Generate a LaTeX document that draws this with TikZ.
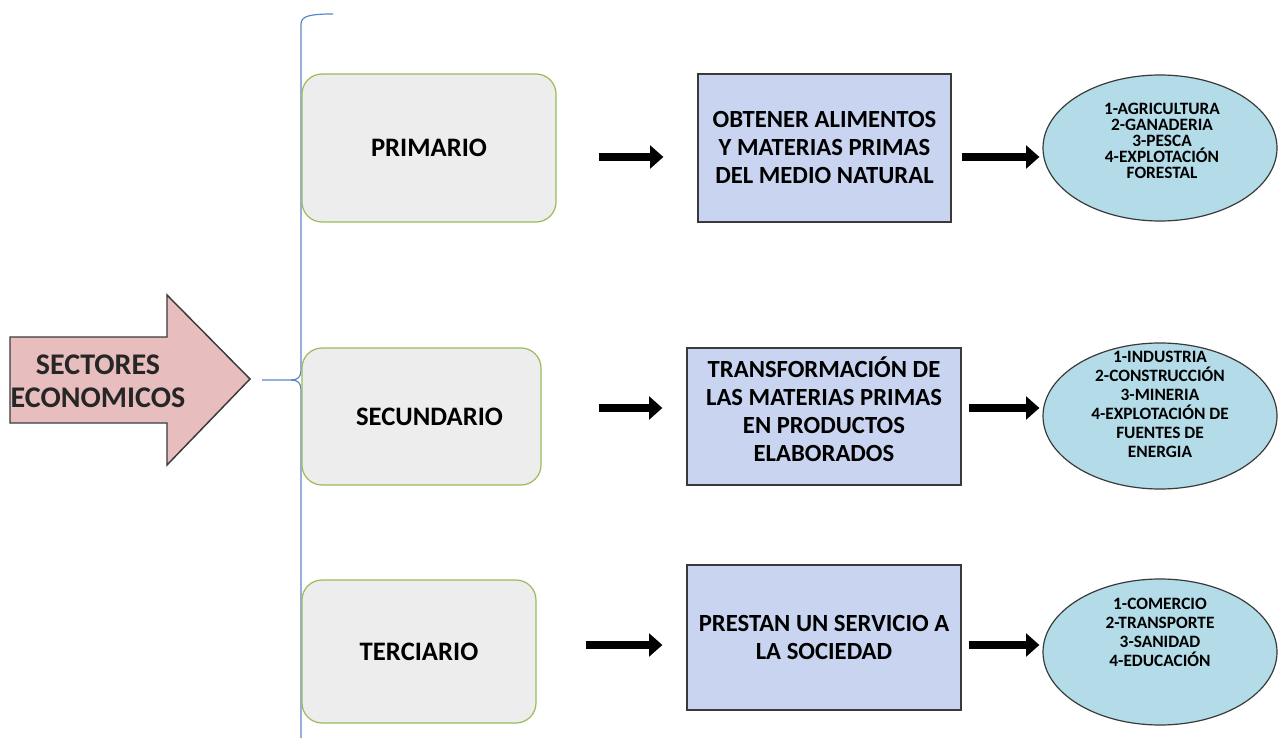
\documentclass[tikz,border=0pt]{standalone}
\usepackage{fontspec}
\setmainfont{Carlito}
\usetikzlibrary{arrows.meta,shapes.geometric,calc}
\definecolor{pinkfill}{HTML}{E8BDBE}
\definecolor{grayfill}{HTML}{EDEDED}
\definecolor{greenline}{HTML}{9BBB59}
\definecolor{bluefill}{HTML}{C9D5F0}
\definecolor{cyanfill}{HTML}{B3DCE8}
\definecolor{braceblue}{HTML}{5B87C8}
\definecolor{darkline}{HTML}{3A3A3A}
\tikzset{
  sectorbox/.style={draw=greenline, line width=0.9pt, fill=grayfill, rounded corners=15pt,
    font=\fontsize{20}{24}\selectfont\bfseries, align=center, inner sep=0pt},
  descbox/.style={draw=darkline, line width=0.9pt, fill=bluefill, inner sep=0pt},
  desctext/.style={font=\fontsize{18.5}{21}\selectfont\bfseries, align=center, inner sep=0pt},
  listell/.style={ellipse, draw=darkline, line width=0.9pt, fill=cyanfill,
    minimum width=175.5pt, minimum height=109.5pt, inner sep=0pt},
  listtext/.style={font=\fontsize{13}{14.25}\selectfont\bfseries, align=center, inner sep=0pt},
  blkarrow/.style={line width=6pt, -{Triangle[length=10pt,width=17pt]}},
}
\begin{document}
\begin{tikzpicture}[x=0.75pt,y=-0.75pt]
\useasboundingbox (0,0) rectangle (1279,738);
% big arrow
\draw[fill=pinkfill, draw=darkline, line width=1.1pt]
  (10,337) -- (167,337) -- (167,295) -- (250,379) -- (167,465) -- (167,423) -- (10,423) -- cycle;
\node[font=\fontsize{22.5}{25}\selectfont\bfseries, align=center, text=black!85] (sect) at (98,381)
  {SECTORES\\ECONOMICOS};
% brace
\coordinate (bracetip) at (262,380);
\draw[braceblue, line width=0.9pt]
  (bracetip) -- (291,380)
  .. controls (298,380) and (301,377) .. (301,370) -- (301,24)
  .. controls (301,16) and (310,14) .. (333,14);
\draw[braceblue, line width=0.9pt]
  (291,380) .. controls (298,380) and (301,383) .. (301,390) -- (301,738);
% sector boxes
\node[sectorbox, minimum width=190.5pt, minimum height=111pt] (p1) at (429,148) {PRIMARIO};
\node[sectorbox, minimum width=179.25pt, minimum height=102.75pt] (p2) at (421.5,416.5) {\hspace*{12pt}SECUNDARIO};
\node[sectorbox, minimum width=175.5pt, minimum height=107.25pt] (p3) at (419,651.5) {TERCIARIO};
% description boxes
\node[descbox, minimum width=189.75pt, minimum height=111pt] (d1) at (824.5,148) {};
\node[desctext] (d1t) at (824.5,148)
  {OBTENER ALIMENTOS\\Y MATERIAS PRIMAS\\DEL MEDIO NATURAL};
\node[descbox, minimum width=205.5pt, minimum height=102.75pt] (d2) at (824,416.5) {};
\node[desctext] (d2t) at (824,409)
  {TRANSFORMACIÓN DE\\LAS MATERIAS PRIMAS\\EN PRODUCTOS\\ELABORADOS};
\node[descbox, minimum width=205.5pt, minimum height=108.75pt] (d3) at (824,637.5) {};
\node[desctext] (d3t) at (824,637.5)
  {PRESTAN UN SERVICIO A\\LA SOCIEDAD};
% ellipses
\node[listell] (e1) at (1160,148) {};
\node[listtext, font=\fontsize{13}{12}\selectfont\bfseries] (e1t) at (1162,141)
  {1-AGRICULTURA\\2-GANADERIA\\3-PESCA\\4-EXPLOTACIÓN\\FORESTAL};
\node[listell] (e2) at (1160,416) {};
\node[listtext] (e2t) at (1160,404.5)
  {1-INDUSTRIA\\2-CONSTRUCCIÓN\\3-MINERIA\\4-EXPLOTACIÓN DE\\FUENTES DE\\ENERGIA};
\node[listell] (e3) at (1160,652) {};
\node[listtext] (e3t) at (1160,632)
  {1-COMERCIO\\2-TRANSPORTE\\3-SANIDAD\\4-EDUCACIÓN};
% arrows
\draw[blkarrow] ($(p1.east)+(42,9)$) -- ($(d1.west)+(-34,9)$);
\draw[blkarrow] ($(d1.east)+(10,9)$) -- ($(e1.west)+(-3,9)$);
\draw[blkarrow] ($(p2.east)+(57,-8.5)$) -- ($(d2.west)+(-24,-8.5)$);
\draw[blkarrow] ($(d2.east)+(7,-8.5)$) -- ($(e2.west)+(-3,-8)$);
\draw[blkarrow] ($(p3.east)+(49,-6.5)$) -- ($(d3.west)+(-24,7.5)$);
\draw[blkarrow] ($(d3.east)+(7,7.5)$) -- ($(e3.west)+(-3,-7)$);
\end{tikzpicture}
\end{document}
